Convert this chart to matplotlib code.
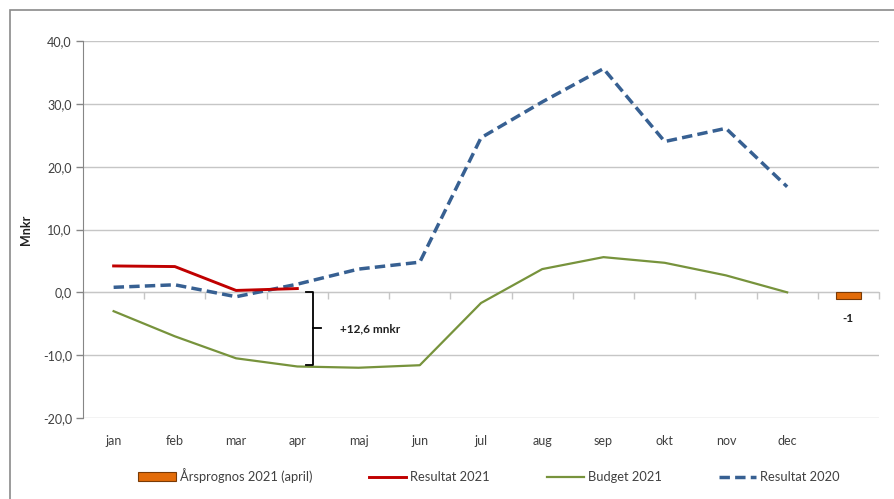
import matplotlib
matplotlib.use("Agg")
import matplotlib.pyplot as plt
from matplotlib.patches import Rectangle
from matplotlib.ticker import FuncFormatter

plt.rcParams['font.family'] = ['Lato', 'DejaVu Sans']

months = ['jan', 'feb', 'mar', 'apr', 'maj', 'jun', 'jul', 'aug', 'sep', 'okt', 'nov', 'dec', '']
resultat_2021 = [4.2, 4.1, 0.3, 0.6]
budget_2021 = [-3.0, -7.0, -10.5, -11.8, -12.0, -11.6, -1.7, 3.7, 5.6, 4.7, 2.7, 0.0]
resultat_2020 = [0.8, 1.2, -0.7, 1.3, 3.7, 4.8, 24.6, 30.3, 35.6, 24.0, 26.1, 16.8]
arsprognos_2021 = -1
arsprognos_label = '-1'
diff_label = '+12,6 mnkr'
bracket_x = 3.25
bracket_top = 0.0
bracket_bottom = -11.5

W, H = 895, 499
fig = plt.figure(figsize=(W / 100, H / 100), dpi=100)
ax = fig.add_axes([83 / W, 1 - 418 / H, (879 - 83) / W, (418 - 41) / H])

grid_c = '#c6c6c6'
axis_c = '#868686'

x = list(range(len(months)))
ax.set_xlim(-0.5, len(months) - 0.5)
ax.set_ylim(-20, 40)
ax.set_yticks([-20, -10, 0, 10, 20, 30, 40])
ax.yaxis.set_major_formatter(FuncFormatter(lambda v, p: f'{v:.1f}'.replace('.', ',')))
ax.grid(axis='y', color=grid_c, lw=1)
ax.set_axisbelow(True)

for s in ['top', 'right', 'bottom']:
    ax.spines[s].set_visible(False)
ax.spines['left'].set_color(axis_c)
ax.tick_params(axis='y', colors='#404040', labelsize=9, length=5, color=axis_c, width=1, pad=3)
ax.set_xticks(x)
ax.set_xticklabels(months)
ax.tick_params(axis='x', length=0, labelsize=9, colors='#404040', pad=12)

# zero axis with category boundary ticks
sec = ax.secondary_xaxis(1 / 3)
sec.set_xticks([i - 0.5 for i in range(len(months) + 1)])
sec.set_xticklabels([])
sec.tick_params(length=5, direction='out', color=grid_c, width=1)
sec.spines['bottom'].set_color(grid_c)

# bar
ax.bar([x[12]], [arsprognos_2021], width=0.41, color='#E36C09', edgecolor='#7a3a05', lw=0.8,
       label='Årsprognos 2021 (april)', zorder=3)
ax.annotate(arsprognos_label, (x[12], arsprognos_2021), xytext=(0, -14), textcoords='offset points',
            ha='center', va='center', fontsize=8.5, fontweight='bold', color='#202020')

ax.plot(x[:len(resultat_2021)], resultat_2021, color='#C00000', lw=2.1, label='Resultat 2021', zorder=4)
ax.plot(x[:len(budget_2021)], budget_2021, color='#77933C', lw=1.6, label='Budget 2021', zorder=3)
ax.plot(x[:len(resultat_2020)], resultat_2020, color='#376092', lw=2.5, dashes=(3, 1.5),
        label='Resultat 2020', zorder=3)

# bracket annotation
tick = 0.1
ax.plot([bracket_x - tick, bracket_x, bracket_x, bracket_x - tick],
        [bracket_top, bracket_top, bracket_bottom, bracket_bottom], color='black', lw=1.3, zorder=5)
mid = (bracket_top + bracket_bottom) / 2
ax.plot([bracket_x, bracket_x + 0.13], [mid, mid], color='black', lw=1.3, zorder=5)
ax.text(bracket_x + 0.45, mid, diff_label, ha='left', va='center', fontsize=8.5, fontweight='bold',
        color='#202020')

ax.set_ylabel('Mnkr', fontsize=9, fontweight='bold', color='#202020', labelpad=8)

handles, labels = ax.get_legend_handles_labels()
order = [labels.index(l) for l in ['Årsprognos 2021 (april)', 'Resultat 2021', 'Budget 2021', 'Resultat 2020']]
fig.legend([handles[i] for i in order], [labels[i] for i in order], loc='center',
           bbox_to_anchor=(489 / W, 1 - 476 / H), ncol=4, frameon=False, fontsize=9.3,
           handlelength=2.9, handletextpad=0.3, columnspacing=4.4, labelcolor='#404040')

# outer frame
fig.patches.append(Rectangle((10 / W, -0.1), 1.2, 1.1 - 10 / H, transform=fig.transFigure,
                             fill=False, edgecolor='#8a8a8a', lw=1.2))
fig.text(258 / W, 1 + 4 / H, 'g', ha='center', va='baseline', fontsize=17, fontweight='bold', color='black')

fig.savefig('out.png', dpi=100)
